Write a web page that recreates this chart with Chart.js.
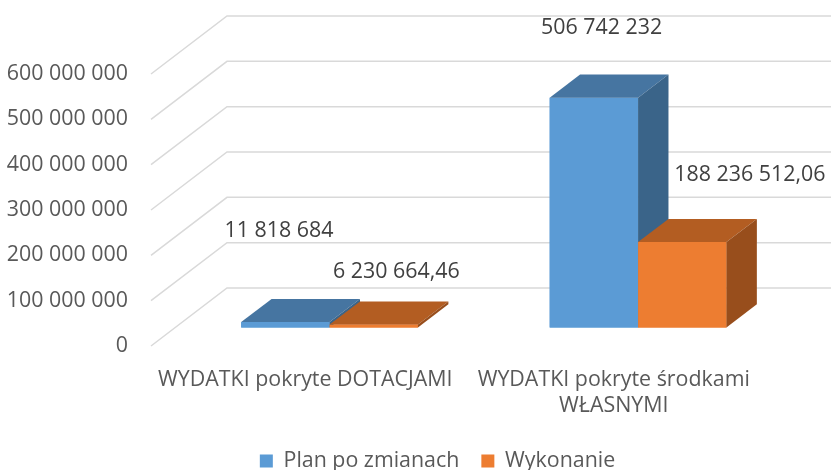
<!DOCTYPE html>
<html><head><meta charset="utf-8">
<script src="https://cdn.jsdelivr.net/npm/chart.js@4/dist/chart.umd.min.js"></script>
<style>html,body{margin:0;padding:0;background:#fff}#wrap{width:831px;height:470px;position:relative}</style>
</head><body><div id="wrap"><canvas id="c"></canvas></div>
<script>
// ---- data ----
const categories = ["WYDATKI pokryte DOTACJAMI", ["WYDATKI pokryte środkami", "WŁASNYMI"]];
const seriesNames = ["Plan po zmianach", "Wykonanie"];
const planValues = [11818684, 506742232];
const wykonanieValues = [6230664.46, 188236512.06];
const yMin = 0, yMax = 600000000, yStep = 100000000;

// ---- style ----
const FONT = '"Open Sans", "DejaVu Sans", sans-serif';
const FS = 21.4;
const frontColors = ['#5B9BD5', '#ED7D31'];
const faceColors = [{top: '#4675A1', side: '#3A6489'}, {top: '#B35D22', side: '#984E1C'}];
const DEPTH = {x: 76, y: -58};
const BAR_FRONT = 0.32, BAR_DEPTH = 0.4;
const PLOT_BOTTOM = 346, LEGEND_TEXT_Y = 461, LEGEND_SHIFT_X = 22;
const labelNudge = [[[18, -110], [32, -88]], [[47, -71], [92, -86]]];

function fmt(v) {
  const neg = v < 0; v = Math.abs(v);
  const isInt = Math.abs(v - Math.round(v)) < 1e-6;
  let intPart = Math.floor(isInt ? Math.round(v) : v);
  let dec = isInt ? '' : ',' + Math.round((v - intPart) * 100).toString().padStart(2, '0');
  const s = intPart.toString().replace(/\B(?=(\d{3})+(?!\d))/g, ' ');
  return (neg ? '-' : '') + s + dec;
}

const threeD = {
  id: 'threeD',
  afterLayout(chart) {
    const lg = chart.legend;
    const pad = lg.options.labels.padding;
    const fs = lg.options.labels.font.size;
    const shift = LEGEND_TEXT_Y - (lg.top + pad + fs / 2);
    lg.top += shift; lg.bottom += shift;
    lg.left += LEGEND_SHIFT_X; lg.right += LEGEND_SHIFT_X;
    // let the category labels use the room down to the legend text
    chart.scales.x.bottom = LEGEND_TEXT_Y - fs / 2 - 4;
  },
  beforeDatasetsDraw(chart) {
    const {ctx, chartArea: a, scales: {y}} = chart;
    ctx.save();
    ctx.strokeStyle = '#D9D9D9'; ctx.lineWidth = 1.5;
    y.ticks.forEach(t => {
      const py = y.getPixelForValue(t.value);
      ctx.beginPath();
      ctx.moveTo(a.left, py);
      ctx.lineTo(a.left + DEPTH.x, py + DEPTH.y);
      ctx.lineTo(chart.width, py + DEPTH.y);
      ctx.stroke();
    });
    ctx.restore();
    ctx.save();
    ctx.translate(DEPTH.x * BAR_FRONT, DEPTH.y * BAR_FRONT);
  },
  afterDatasetsDraw(chart) {
    const ctx = chart.ctx;
    const dx = DEPTH.x * BAR_DEPTH, dy = DEPTH.y * BAR_DEPTH;
    chart.data.datasets.forEach((ds, i) => {
      const c = faceColors[i];
      chart.getDatasetMeta(i).data.forEach(bar => {
        const {x, y, base, width} = bar.getProps(['x', 'y', 'base', 'width'], true);
        const l = x - width / 2, r = x + width / 2;
        bar.draw(ctx);
        ctx.fillStyle = c.top;
        ctx.beginPath(); ctx.moveTo(l, y); ctx.lineTo(l + dx, y + dy); ctx.lineTo(r + dx, y + dy); ctx.lineTo(r, y); ctx.closePath(); ctx.fill();
        ctx.fillStyle = c.side;
        ctx.beginPath(); ctx.moveTo(r, y); ctx.lineTo(r + dx, y + dy); ctx.lineTo(r + dx, base + dy); ctx.lineTo(r, base); ctx.closePath(); ctx.fill();
      });
    });
    ctx.restore();
    ctx.save();
    ctx.font = FS + 'px ' + FONT; ctx.fillStyle = '#404040';
    ctx.textAlign = 'center'; ctx.textBaseline = 'middle';
    chart.data.datasets.forEach((ds, i) => {
      chart.getDatasetMeta(i).data.forEach((bar, j) => {
        const n = labelNudge[i][j];
        ctx.fillText(fmt(ds.data[j]), bar.x + n[0], bar.y + n[1]);
      });
    });
    ctx.restore();
  }
};

new Chart(document.getElementById('c'), {
  type: 'bar',
  data: {
    labels: categories,
    datasets: [
      {label: seriesNames[0], data: planValues, backgroundColor: frontColors[0], clip: false},
      {label: seriesNames[1], data: wykonanieValues, backgroundColor: frontColors[1], clip: false}
    ]
  },
  options: {
    responsive: true, maintainAspectRatio: false, animation: false,
    datasets: {bar: {categoryPercentage: 0.573, barPercentage: 1.0}},
    layout: {padding: {left: 0, right: 0, top: 74, bottom: 0}},
    plugins: {
      tooltip: {enabled: false},
      legend: {
        position: 'bottom',
        labels: {boxWidth: 13, boxHeight: 13, padding: 22, color: '#595959', font: {family: FONT, size: FS}}
      }
    },
    scales: {
      x: {
        grid: {display: false, drawTicks: false}, border: {display: false},
        ticks: {padding: 21, color: '#595959', font: {family: FONT, size: FS}, maxRotation: 0, autoSkip: false},
        afterFit(s) {
          const lh = s.chart.legend ? s.chart.legend.height : 0;
          s.height = s.chart.height - PLOT_BOTTOM - lh;
        }
      },
      y: {
        min: yMin, max: yMax,
        grid: {display: false, drawTicks: false}, border: {display: false},
        ticks: {stepSize: yStep, padding: 23, color: '#595959', font: {family: FONT, size: FS}, callback: v => fmt(v)},
        afterFit(s) { s.width = 151; }
      },
      yR: {
        type: 'linear', position: 'right', display: true,
        grid: {display: false, drawTicks: false}, border: {display: false},
        ticks: {display: false},
        afterFit(s) { s.width = 63; }
      }
    }
  },
  plugins: [threeD]
});
</script>
</body></html>
